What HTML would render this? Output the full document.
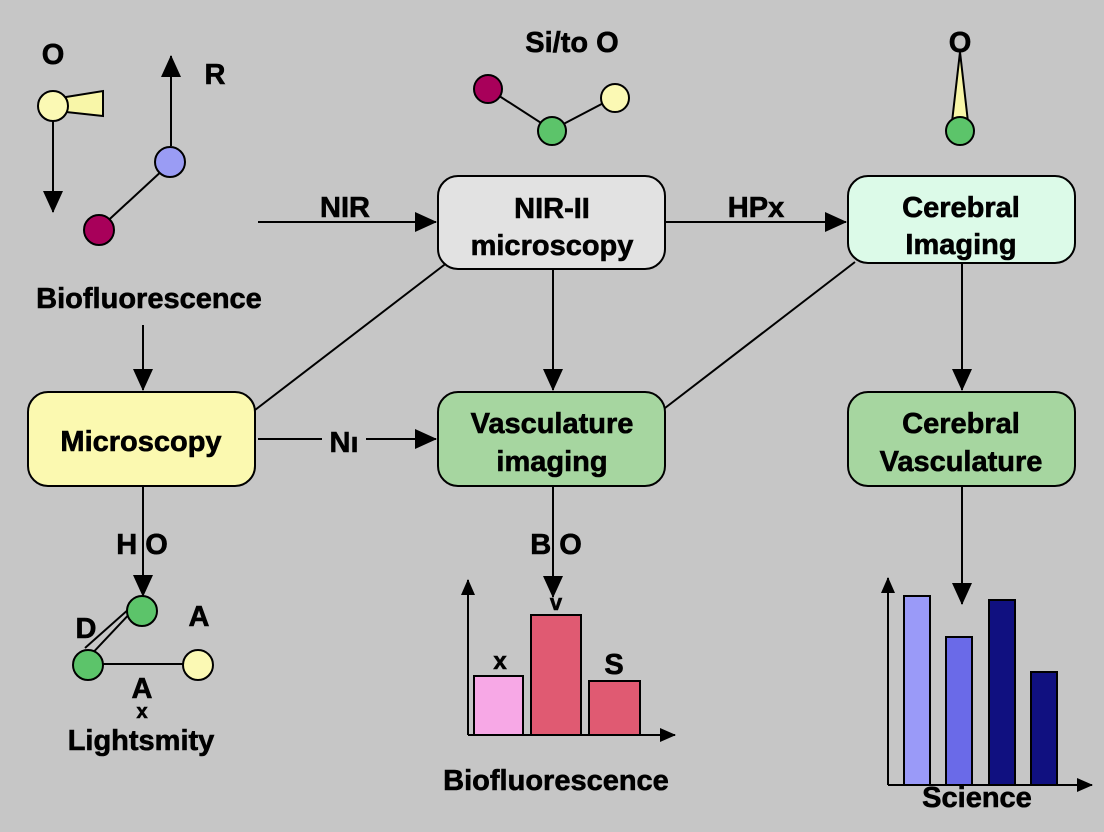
<!DOCTYPE html>
<html><head><meta charset="utf-8"><style>
html,body{margin:0;padding:0;background:#c6c6c6;}
svg{display:block;font-family:"Liberation Sans",sans-serif;font-weight:bold;}
</style></head><body>
<svg width="1104" height="832" viewBox="0 0 1104 832" xmlns="http://www.w3.org/2000/svg">
<defs><marker id="a" markerWidth="16" markerHeight="16" refX="15" refY="8" orient="auto" markerUnits="userSpaceOnUse"><path d="M0,1 L16,8 L0,15 Z" fill="#000"/></marker>
<marker id="b" markerWidth="22" markerHeight="20" refX="21" refY="10" orient="auto" markerUnits="userSpaceOnUse"><path d="M0,0 L22,10 L0,20 Z" fill="#000"/></marker></defs>
<rect width="1104" height="832" fill="#c6c6c6"/>
<g stroke="#000" stroke-width="2" fill="none">
<line x1="53" y1="115" x2="53" y2="212" marker-end="url(#b)"/>
<line x1="171" y1="146" x2="171" y2="56" marker-end="url(#b)"/>
<line x1="100" y1="228" x2="165" y2="168"/>
<line x1="258" y1="222" x2="436" y2="222" marker-end="url(#b)"/>
<line x1="665" y1="222" x2="846" y2="222" marker-end="url(#b)"/>
<line x1="255" y1="410" x2="448" y2="262"/>
<line x1="665" y1="408" x2="855" y2="262"/>
<line x1="553" y1="270" x2="553" y2="390" marker-end="url(#b)"/>
<line x1="962" y1="262" x2="962" y2="390" marker-end="url(#b)"/>
<line x1="143" y1="325" x2="143" y2="390" marker-end="url(#b)"/>
<line x1="258" y1="439" x2="322" y2="439"/>
<line x1="366" y1="439" x2="436" y2="439" marker-end="url(#b)"/>
<line x1="143" y1="486" x2="143" y2="596" marker-end="url(#b)"/>
<line x1="553" y1="486" x2="553" y2="597" marker-end="url(#b)"/>
<line x1="962" y1="486" x2="962" y2="604" marker-end="url(#b)"/>
<line x1="86" y1="660" x2="135" y2="608"/><line x1="85" y1="648" x2="130" y2="608"/>
<line x1="90" y1="664" x2="195" y2="664"/>
<line x1="490" y1="90" x2="552" y2="130"/><line x1="552" y1="130" x2="615" y2="97"/>
<line x1="468" y1="735" x2="468" y2="580" marker-end="url(#a)"/>
<line x1="468" y1="735" x2="675" y2="735" marker-end="url(#a)"/>
<line x1="888" y1="785" x2="888" y2="578" marker-end="url(#a)"/>
<line x1="888" y1="785" x2="1092" y2="785" marker-end="url(#a)"/>
</g>
<g stroke="#000" stroke-width="2">
<path d="M66,97 L103,91 L103,116 L66,112 Z" fill="#f8f6a8"/>
<circle cx="53" cy="106" r="15" fill="#fbf9b4"/>
<circle cx="170" cy="162" r="15" fill="#9a9cf4"/>
<circle cx="99" cy="230" r="15" fill="#a8005a"/>
<circle cx="488" cy="89" r="14" fill="#a8005a"/>
<circle cx="552" cy="131" r="14" fill="#5cc46a"/>
<circle cx="615" cy="98" r="14" fill="#fbf9b4"/>
<path d="M960,52 L952,122 L968,122 Z" fill="#f8f6a8"/>
<circle cx="960" cy="131" r="14" fill="#5cc46a"/>
<circle cx="142" cy="611" r="15" fill="#5cc46a"/>
<circle cx="88" cy="665" r="15" fill="#5cc46a"/>
<circle cx="198" cy="665" r="15" fill="#fbf9b4"/>
<rect x="438" y="176" width="227" height="93" rx="20" fill="#e2e2e2"/>
<rect x="848" y="176" width="227" height="87" rx="20" fill="#dcfae8"/>
<rect x="28" y="392" width="227" height="94" rx="20" fill="#fbf9b0"/>
<rect x="438" y="392" width="227" height="94" rx="20" fill="#a6d6a0"/>
<rect x="848" y="392" width="227" height="94" rx="20" fill="#a6d6a0"/>
<rect x="474" y="676" width="49" height="59" fill="#f7a8e6"/>
<rect x="531" y="615" width="50" height="120" fill="#e05a72"/>
<rect x="589" y="681" width="51" height="54" fill="#e05a72"/>
<rect x="904" y="596" width="26" height="189" fill="#9a9af8"/>
<rect x="946" y="637" width="26" height="148" fill="#6a6ae8"/>
<rect x="989" y="600" width="26" height="185" fill="#101080"/>
<rect x="1031" y="672" width="26" height="113" fill="#101080"/>
</g>
<g fill="#000" stroke="#000" stroke-width="0.6" font-size="29" text-anchor="middle">
<text x="53" y="64">O</text>
<text x="215" y="84">R</text>
<text x="572" y="52">Si/to  O</text>
<text x="960" y="52">O</text>
<text x="149" y="308">Biofluorescence</text>
<text x="345" y="217">NIR</text>
<text x="756" y="217">HPx</text>
<text x="552" y="218">NIR-II</text>
<text x="552" y="255">microscopy</text>
<text x="961" y="217">Cerebral</text>
<text x="961" y="254">Imaging</text>
<text x="141" y="451">Microscopy</text>
<text x="344" y="452">Nı</text>
<text x="552" y="433">Vasculature</text>
<text x="552" y="471">imaging</text>
<text x="961" y="433">Cerebral</text>
<text x="961" y="471">Vasculature</text>
<text x="142" y="554">H O</text>
<text x="86" y="638">D</text>
<text x="199" y="626">A</text>
<text x="142" y="698">A</text>
<text x="142" y="718" font-size="20">x</text>
<text x="141" y="750">Lightsmity</text>
<text x="556" y="554">B O</text>
<text x="556" y="610" font-size="22">v</text>
<text x="500" y="669" font-size="24">x</text>
<text x="614" y="674">S</text>
<text x="556" y="790">Biofluorescence</text>
<text x="977" y="807">Science</text>
</g>
</svg>
</body></html>
